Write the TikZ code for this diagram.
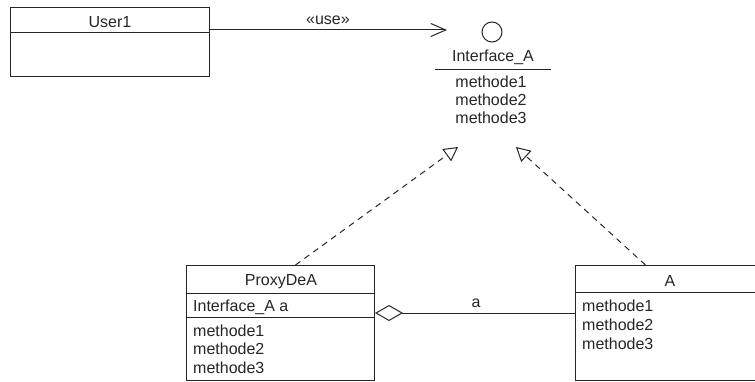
\documentclass[tikz,border=0pt]{standalone}
\usepackage{fontspec}
\setmainfont{Liberation Sans}
\usetikzlibrary{arrows.meta,calc}
\begin{document}
\begin{tikzpicture}[x=1pt,y=-1pt,
  box/.style={draw=black!85, line width=1pt, rectangle, inner sep=0pt, anchor=north west},
  divider/.style={draw=black!85, line width=1pt},
  lbl/.style={inner sep=0pt, anchor=base, text=black!85, font=\fontsize{16}{18}\selectfont},
  lbll/.style={lbl, anchor=base west},
  conn/.style={draw=black!85, line width=1pt},
  real/.style={conn, dash pattern=on 6pt off 5pt, -{Triangle[open,length=14pt,width=15pt]}},
  usearrow/.style={conn, -{Straight Barb[length=15pt,width=13pt]}},
  aggr/.style={conn, {Diamond[open,length=28pt,width=16pt]}-},
]
\useasboundingbox (0,0) rectangle (755,382);
\fill[white] (0,0) rectangle (755,382);
\clip (0,0) rectangle (755,382);

% User1
\node[box, minimum width=199pt, minimum height=69pt] (user) at (10,7) {};
\draw[divider] (10,33) -- (209,33);
\node[lbl] (userT) at (110,28) {User1};

% Interface_A
\node[circle, draw=black!85, line width=1pt, minimum size=20pt, inner sep=0pt] (iface) at (492,32) {};
\node[lbl] (ifT) at (493,62) {Interface\_A};
\draw[divider] (435,70) -- (551,70);
\node[lbl] (ifM1) at (491,88) {methode1};
\node[lbl] (ifM2) at (491,106) {methode2};
\node[lbl] (ifM3) at (491,124) {methode3};
\coordinate (useEnd) at (447,30);
\coordinate (realL) at (458,147);
\coordinate (realR) at (516,147);

% ProxyDeA
\node[box, minimum width=188pt, minimum height=115pt] (proxy) at (186,265) {};
\draw[divider] (186,293) -- (374,293);
\draw[divider] (186,317) -- (374,317);
\node[lbl] (pT) at (281,285) {ProxyDeA};
\node[lbll] (pA) at (193,311) {Interface\_A a};
\node[lbll] (pM1) at (193,336) {methode1};
\node[lbll] (pM2) at (193,354.5) {methode2};
\node[lbll] (pM3) at (193,373) {methode3};

% A
\node[box, minimum width=190pt, minimum height=115pt] (A) at (575,265) {};
\draw[divider] (575,292) -- (765,292);
\node[lbl] (aT) at (670,286) {A};
\node[lbll] (aM1) at (582,311) {methode1};
\node[lbll] (aM2) at (582,330) {methode2};
\node[lbll] (aM3) at (582,349) {methode3};

% connectors
\draw[usearrow] (user.east |- useEnd) -- (useEnd);
\node[lbl] (useL) at (328,25) {«use»};
\draw[real] ($(proxy.north)+(15,0)$) -- (realL);
\draw[real] ($(A.north)+(-25,0)$) -- (realR);
\draw[aggr] (proxy.east |- 0,313) -- (A.west |- 0,313);
\node[lbl] (aggL) at (476,307) {a};
\end{tikzpicture}
\end{document}
